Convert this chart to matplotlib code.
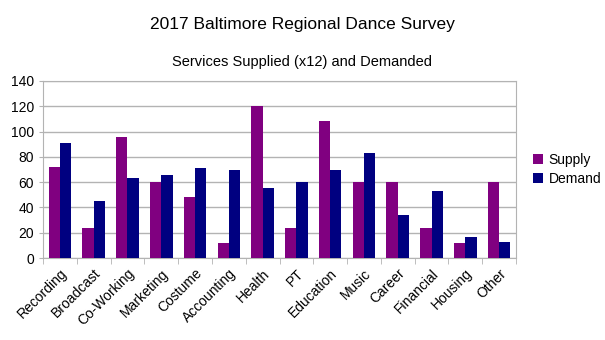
import numpy as np
import matplotlib
matplotlib.use("Agg")
import matplotlib.pyplot as plt

plt.rcParams['font.family'] = ['Liberation Sans', 'DejaVu Sans']

categories = ["Recording", "Broadcast", "Co-Working", "Marketing", "Costume",
              "Accounting", "Health", "PT", "Education", "Music", "Career",
              "Financial", "Housing", "Other"]
supply = [72, 24, 96, 60, 48, 12, 120, 24, 108, 60, 60, 24, 12, 60]
demand = [91, 45, 63, 66, 71, 70, 55, 60, 70, 83, 34, 53, 17, 13]

fig = plt.figure(figsize=(6.05, 3.4), dpi=100)
ax = fig.add_axes([43 / 605, 1 - 258 / 340, 473 / 605, 177 / 340])

x = np.arange(len(categories))
w = 0.335
ax.bar(x - w / 2, supply, w, color="#800080", label="Supply", zorder=3)
ax.bar(x + w / 2, demand, w, color="#000080", label="Demand", zorder=3)

ax.set_xlim(-0.5, len(categories) - 0.5)
ax.set_ylim(0, 140)
ax.set_yticks(range(0, 141, 20))
ax.yaxis.grid(True, color="#b3b3b3", linewidth=1, zorder=0)
ax.tick_params(axis="y", length=3, color="#b3b3b3", labelsize=10)

ax.set_xticks(x)
ax.set_xticklabels(categories, rotation=45, ha="right", rotation_mode="anchor",
                   fontsize=10)
ax.set_xticks(np.arange(-0.5, len(categories), 1), minor=True)
ax.tick_params(axis="x", which="major", length=0, pad=6)
ax.tick_params(axis="x", which="minor", length=4, color="#b3b3b3")

for s in ax.spines.values():
    s.set_color("#b3b3b3")

fig.text(0.5, 1 - 25 / 340, "2017 Baltimore Regional Dance Survey",
         ha="center", va="center", fontsize=12.5)
fig.text(0.5, 1 - 62 / 340, "Services Supplied (x12) and Demanded",
         ha="center", va="center", fontsize=10.5)

ax.legend(loc="center left", bbox_to_anchor=(1.01, 0.5), frameon=False,
          fontsize=10, handlelength=0.7, handleheight=0.7, handletextpad=0.4,
          labelspacing=0.35)

plt.savefig("out.png", dpi=100)
plt.close()
